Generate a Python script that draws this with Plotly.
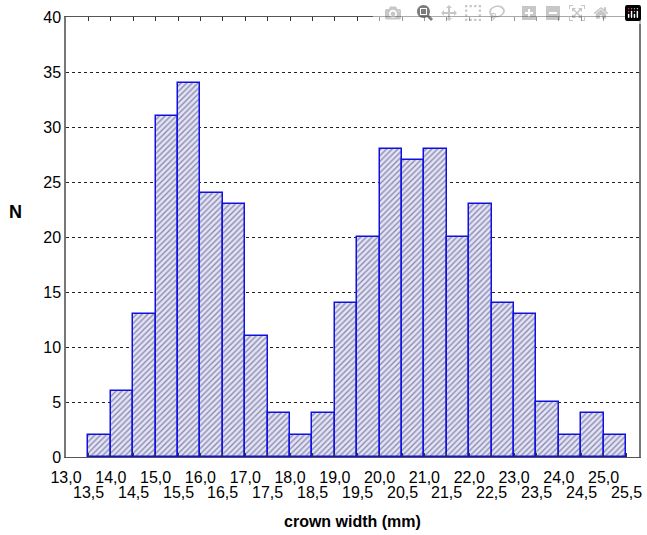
import plotly.graph_objects as go

bin_starts = [13.5 + 0.5 * i for i in range(24)]
counts = [2, 6, 13, 31, 34, 24, 23, 11, 4, 2, 4, 14, 20, 28, 27, 28, 20, 23, 14, 13, 5, 2, 4, 2]
whole_ticks = [13.0, 14.0, 15.0, 16.0, 17.0, 18.0, 19.0, 20.0, 21.0, 22.0, 23.0, 24.0, 25.0]
half_ticks = [13.5, 14.5, 15.5, 16.5, 17.5, 18.5, 19.5, 20.5, 21.5, 22.5, 23.5, 24.5, 25.5]
whole_text = [("%.1f" % v).replace(".", ",") for v in whole_ticks]
half_text = [("%.1f" % v).replace(".", ",") for v in half_ticks]
y_ticks = [0, 5, 10, 15, 20, 25, 30, 35, 40]

centers = [s + 0.25 for s in bin_starts]
x_range = [13.0, 25.79]

fig = go.Figure()
fig.add_trace(go.Bar(
    x=centers, y=counts, width=0.5,
    marker=dict(
        color="#dcdcf2",
        line=dict(color="#1010e0", width=1.5),
        pattern=dict(shape="/", fgcolor="#30306a", bgcolor="#e4e4f6", size=4, solidity=0.35),
    ),
    showlegend=False, hoverinfo="skip",
))

fam = "Liberation Sans, Arial, sans-serif"
font = dict(family=fam, size=16, color="black")

annotations = [
    dict(text="<b>N</b>", xref="paper", yref="paper", x=-0.089, y=0.557,
         xanchor="center", yanchor="middle", showarrow=False,
         font=dict(family=fam, size=18, color="black")),
    dict(text="<b>crown width (mm)</b>", xref="paper", yref="paper", x=0.5, y=-0.1477,
         xanchor="center", yanchor="middle", showarrow=False,
         font=dict(family=fam, size=16, color="black")),
]
# second row of tick labels (half values), placed through the x axis scale
for v, t in zip(half_ticks, half_text):
    annotations.append(dict(text=t, xref="x", yref="paper", x=v, y=-0.0818,
                            xanchor="center", yanchor="middle", showarrow=False, font=font))

fig.update_layout(
    width=647, height=535,
    margin=dict(l=66, r=8, t=17, b=78, autoexpand=False),
    paper_bgcolor="white", plot_bgcolor="white",
    font=font,
    bargap=0,
    xaxis=dict(
        range=x_range, tickmode="array",
        tickvals=whole_ticks + half_ticks, ticktext=whole_text + [""] * len(half_ticks), tickangle=0,
        showgrid=False, zeroline=False, automargin=False,
        showline=True, linecolor="#555555", linewidth=1, mirror="ticks",
        ticks="inside", ticklen=4, tickcolor="#333333",
        tickfont=font, ticklabeloverflow="allow", ticklabelstandoff=6,
    ),
    yaxis=dict(
        range=[0, 40], tickvals=y_ticks, automargin=False,
        showgrid=True, gridcolor="#222222", gridwidth=1, griddash="dot",
        zeroline=False,
        showline=True, linecolor="#777777", linewidth=1.5, mirror=True,
        ticks="", tickfont=font,
    ),
    annotations=annotations,
)
# remove the browser's default body margin so the figure fills the window exactly
fig.write_html("out.html", post_script="document.body.style.margin='0';")
